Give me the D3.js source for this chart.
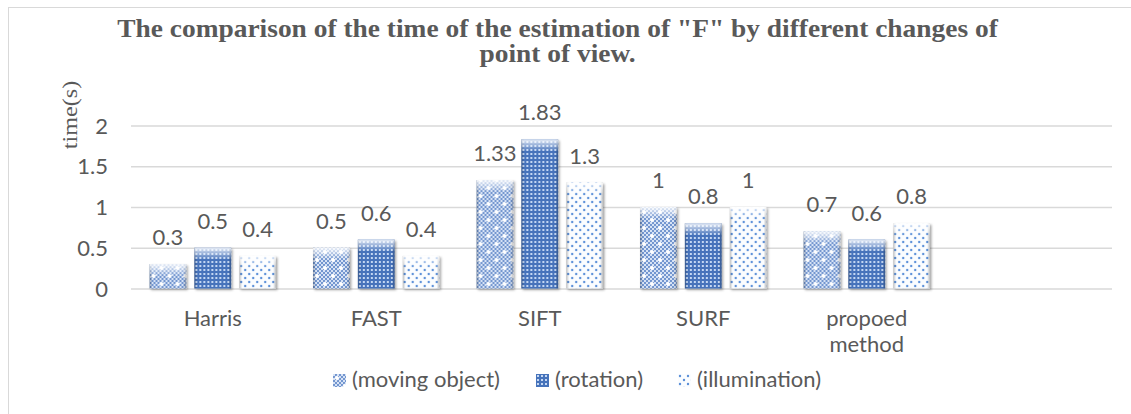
<!DOCTYPE html>
<html>
<head>
<meta charset="utf-8">
<style>
    body { margin: 0; background: #fff; }
    #chartArea { width: 1131px; height: 414px; }
    text { font-family: Lato, "Open Sans", sans-serif; fill: #595959; }
</style>
</head>
<body>
<div id="chartArea"></div>
<script src="https://cdnjs.cloudflare.com/ajax/libs/d3/7.8.5/d3.min.js"></script>
<script>
    /* -----------------------------------
        data
    ----------------------------------- */
    var categories = ["Harris", "FAST", "SIFT", "SURF", "propoed method", ""];
    var seriesNames = ["(moving object)", "(rotation)", "(illumination)"];
    var movingObject = [0.3, 0.5, 1.33, 1, 0.7];
    var rotation = [0.5, 0.6, 1.83, 0.8, 0.6];
    var illumination = [0.4, 0.4, 1.3, 1, 0.8];
    var yTicks = [0, 0.5, 1, 1.5, 2];
    var titleLines = ["The comparison of the time of the estimation of \"F\" by different changes of", "point of view."];
    var yTitle = "time(s)";

    var seriesValues = [movingObject, rotation, illumination];

    /* -----------------------------------
        initialize
    ----------------------------------- */
    var width = 1131, height = 414;
    var plot = {left: 131, right: 1112, top: 125.5, bottom: 288.5};
    var fontSize = "22px";
    var serif = "'Liberation Serif', 'Times New Roman', Times, serif";

    var svg = d3.select("#chartArea").append("svg")
        .attr("width", width)
        .attr("height", height);

    var defs = svg.append("defs");

    // checker for "moving object"
    var chk = defs.append("pattern").attr("id", "chk")
        .attr("patternUnits", "userSpaceOnUse").attr("width", 4).attr("height", 4);
    chk.append("rect").attr("width", 4).attr("height", 4).attr("fill", "#7396cf");
    chk.append("rect").attr("width", 2).attr("height", 2).attr("fill", "#d6e2f5");
    chk.append("rect").attr("x", 2).attr("y", 2).attr("width", 2).attr("height", 2).attr("fill", "#d6e2f5");

    var p0 = defs.append("pattern").attr("id", "pat0")
        .attr("patternUnits", "userSpaceOnUse").attr("width", 16).attr("height", 16);
    p0.append("rect").attr("width", 16).attr("height", 16).attr("fill", "url(#chk)");
    [[4, 4], [12, 12]].forEach(function(c) {
        p0.append("path")
            .attr("d", "M" + c[0] + "," + (c[1] - 2.5) + "L" + (c[0] + 2.5) + "," + c[1] + "L" + c[0] + "," + (c[1] + 2.5) + "L" + (c[0] - 2.5) + "," + c[1] + "Z")
            .attr("fill", "#ffffff");
    });

    // dotted dark blue for "rotation"
    var p1 = defs.append("pattern").attr("id", "pat1")
        .attr("patternUnits", "userSpaceOnUse").attr("width", 4).attr("height", 4);
    p1.append("rect").attr("width", 4).attr("height", 4).attr("fill", "#4673bb");
    p1.append("rect").attr("x", 1).attr("y", 1).attr("width", 2).attr("height", 2).attr("fill", "#c4d7f3");

    // sparse dots for "illumination"
    var p2 = defs.append("pattern").attr("id", "pat2")
        .attr("patternUnits", "userSpaceOnUse").attr("width", 8).attr("height", 8);
    p2.append("rect").attr("width", 8).attr("height", 8).attr("fill", "#fbfdff");
    p2.append("circle").attr("cx", 2).attr("cy", 2).attr("r", 1.2).attr("fill", "#5b8fd8");
    p2.append("circle").attr("cx", 6).attr("cy", 6).attr("r", 1.2).attr("fill", "#5b8fd8");

    var hl = defs.append("linearGradient").attr("id", "hl")
        .attr("x1", 0).attr("y1", 0).attr("x2", 0).attr("y2", 1);
    hl.append("stop").attr("offset", "0%").attr("stop-color", "#fff").attr("stop-opacity", 0.85);
    hl.append("stop").attr("offset", "100%").attr("stop-color", "#fff").attr("stop-opacity", 0);

    var edge = defs.append("linearGradient").attr("id", "edge")
        .attr("x1", 0).attr("y1", 0).attr("x2", 1).attr("y2", 0);
    edge.append("stop").attr("offset", "0%").attr("stop-color", "#000").attr("stop-opacity", 0.25);
    edge.append("stop").attr("offset", "8%").attr("stop-color", "#000").attr("stop-opacity", 0);
    edge.append("stop").attr("offset", "92%").attr("stop-color", "#000").attr("stop-opacity", 0);
    edge.append("stop").attr("offset", "100%").attr("stop-color", "#000").attr("stop-opacity", 0.25);

    var shadow = defs.append("filter").attr("id", "shadow")
        .attr("x", "-20%").attr("y", "-20%").attr("width", "150%").attr("height", "150%");
    shadow.append("feDropShadow").attr("dx", 1.5).attr("dy", 1.5).attr("stdDeviation", 1.2)
        .attr("flood-color", "#000").attr("flood-opacity", 0.35);

    var fills = ["url(#pat0)", "url(#pat1)", "url(#pat2)"];

    // chart area border
    svg.append("rect")
        .attr("x", 8.5).attr("y", 7.5).attr("width", 1140).attr("height", 420)
        .attr("fill", "none").attr("stroke", "#d9d9d9");

    /* -----------------------------------
        scales
    ----------------------------------- */
    var x0 = d3.scaleBand().domain(categories).range([plot.left, plot.right]).padding(0);
    var x1 = d3.scaleBand().domain(d3.range(seriesNames.length))
        .range([18.5, x0.bandwidth() - 18.5]).paddingInner(0.18);
    var y = d3.scaleLinear().domain([0, 2]).range([plot.bottom, plot.top]);

    /* -----------------------------------
        grid + axes
    ----------------------------------- */
    var yAxis = d3.axisLeft(y).tickValues(yTicks).tickSize(-(plot.right - plot.left)).tickFormat(d3.format("~g"));
    var gy = svg.append("g").attr("transform", "translate(" + plot.left + ",0)").call(yAxis);
    gy.select(".domain").remove();
    gy.selectAll("line").attr("stroke", "#d9d9d9").attr("stroke-width", 1.3);
    gy.selectAll("text").attr("x", -23).attr("dy", "0.35em")
        .style("font-size", fontSize).attr("fill", "#595959");

    var gx = svg.append("g");
    categories.forEach(function(c) {
        if (!c) return;
        var words = c.split(" ");
        var t = gx.append("text")
            .attr("x", x0(c) + x0.bandwidth() / 2)
            .attr("y", 326)
            .attr("text-anchor", "middle")
            .style("font-size", fontSize);
        words.forEach(function(w, i) {
            t.append("tspan").attr("x", x0(c) + x0.bandwidth() / 2).attr("dy", i ? 26 : 0).text(w);
        });
    });

    /* -----------------------------------
        bars
    ----------------------------------- */
    var rows = [];
    seriesValues.forEach(function(vals, s) {
        vals.forEach(function(v, i) {
            rows.push({s: s, cat: categories[i], v: v});
        });
    });

    var bars = svg.append("g").selectAll("g").data(rows).enter().append("g")
        .attr("transform", function(d) { return "translate(" + (x0(d.cat) + x1(d.s)) + ",0)"; });

    bars.append("rect")
        .attr("y", function(d) { return y(d.v); })
        .attr("width", x1.bandwidth())
        .attr("height", function(d) { return y(0) - y(d.v); })
        .attr("fill", function(d) { return fills[d.s]; })
        .attr("filter", "url(#shadow)");

    bars.append("rect")
        .attr("y", function(d) { return y(d.v); })
        .attr("width", x1.bandwidth())
        .attr("height", function(d) { return y(0) - y(d.v); })
        .attr("fill", "url(#edge)");

    bars.append("rect")
        .attr("y", function(d) { return y(d.v); })
        .attr("width", x1.bandwidth())
        .attr("height", function(d) { return Math.min(12, y(0) - y(d.v)); })
        .attr("fill", "url(#hl)");

    bars.append("text")
        .attr("x", x1.bandwidth() / 2)
        .attr("y", function(d) { return y(d.v) - 19; })
        .attr("text-anchor", "middle")
        .style("font-size", fontSize)
        .attr("fill", "#404040")
        .text(function(d) { return d3.format("~g")(d.v); });

    /* -----------------------------------
        titles (reference text is stretched taller than wide)
    ----------------------------------- */
    var sy = 1.4;
    var title = svg.append("g");
    titleLines.forEach(function(line, i) {
        title.append("text")
            .attr("x", 0).attr("y", (37 + i * 25) / sy)
            .attr("text-anchor", "middle")
            .style("font-family", serif)
            .style("font-weight", "bold")
            .style("font-size", "18px")
            .attr("fill", "#000")
            .text(line);
    });
    var natural = title.select("text").node().getComputedTextLength();
    title.attr("transform", "translate(557.5,0) scale(" + (881 / natural) + "," + sy + ")");

    svg.append("text")
        .attr("transform", "translate(77,115) rotate(-90) scale(1.15,1)")
        .attr("text-anchor", "middle")
        .style("font-family", serif)
        .style("font-size", "21px")
        .attr("fill", "#000")
        .text(yTitle);

    /* -----------------------------------
        legend
    ----------------------------------- */
    var legendX = [333, 536, 678];
    var legend = svg.append("g").selectAll("g").data(seriesNames).enter().append("g")
        .attr("transform", function(d, i) { return "translate(" + legendX[i] + ",374)"; });
    legend.append("rect")
        .attr("width", 13).attr("height", 13)
        .attr("fill", function(d, i) { return fills[i]; });
    legend.append("text")
        .attr("x", 19).attr("y", 13)
        .style("font-size", fontSize)
        .text(function(d) { return d; });
</script>
</body>
</html>
